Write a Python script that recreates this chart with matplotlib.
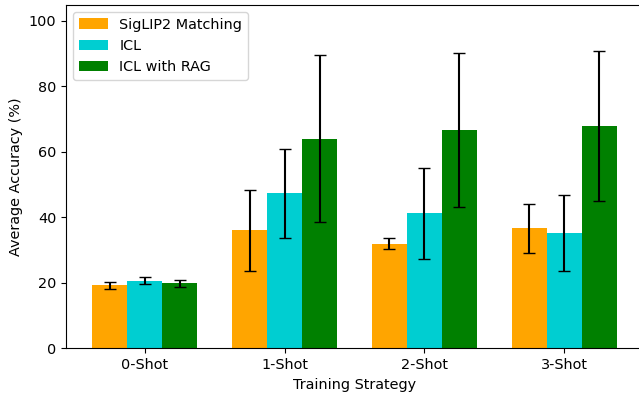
import matplotlib
matplotlib.use('Agg')
import matplotlib.pyplot as plt
import numpy as np

# Accuracy per training strategy (mean and std)
estrategias = ['0-Shot', '1-Shot', '2-Shot', '3-Shot']
siglip = [19.3, 36.0, 31.9, 36.6]
siglip_err = [1.05, 12.3, 1.65, 7.35]
icl = [20.6, 47.3, 41.3, 35.3]
icl_err = [1.1, 13.7, 13.9, 11.6]
icl_rag = [19.9, 64.0, 66.6, 67.9]
icl_rag_err = [1.1, 25.5, 23.5, 22.8]

x = np.arange(len(estrategias))
width = 0.25

plt.rcParams['font.size'] = 10.4

fig, ax = plt.subplots(figsize=(6.39, 3.93), dpi=100)
fig.subplots_adjust(left=0.1033, right=1.0063, bottom=0.1137, top=0.9885)

ax.bar(x - width, siglip, width, yerr=siglip_err, capsize=4, color='orange', label='SigLIP2 Matching')
ax.bar(x, icl, width, yerr=icl_err, capsize=4, color='darkturquoise', label='ICL')
ax.bar(x + width, icl_rag, width, yerr=icl_rag_err, capsize=4, color='green', label='ICL with RAG')

ax.set_xlabel('Training Strategy')
ax.set_ylabel('Average Accuracy (%)')
ax.set_xticks(x)
ax.set_xticklabels(estrategias)
ax.set_ylim(0, 105)
ax.legend(loc='upper left')

plt.savefig('out.png')
